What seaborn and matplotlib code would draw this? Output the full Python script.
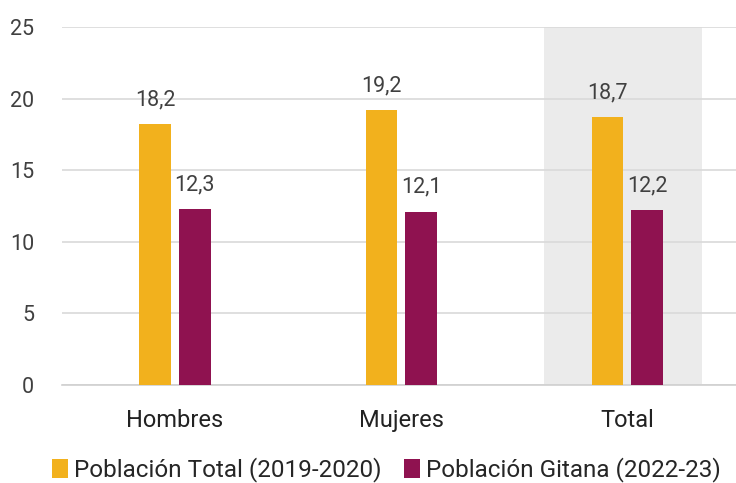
import matplotlib
matplotlib.use("Agg")
import matplotlib.pyplot as plt
import seaborn as sns
import pandas as pd

# =========================================================
# DATA
# =========================================================

categories = ["Hombres", "Mujeres", "Total"]
series_names = ["Población Total (2019-2020)", "Población Gitana (2022-23)"]
total_values = [18.2, 19.2, 18.7]
gitana_values = [12.3, 12.1, 12.2]
y_ticks = [0, 5, 10, 15, 20, 25]

colors = ["#F2B11D", "#8F1250"]
text_color = "#404040"

df = pd.DataFrame({
    "Grupo": categories * 2,
    "Serie": [series_names[0]] * 3 + [series_names[1]] * 3,
    "Valor": total_values + gitana_values,
})

# =========================================================
# PLOT
# =========================================================

sns.set_theme(style="white")
plt.rcParams["font.family"] = ["Roboto", "DejaVu Sans"]

fig = plt.figure(figsize=(7.36, 4.83), dpi=100)
ax = fig.add_axes([0.084, 0.203, 0.916, 0.741])

# highlight band behind "Total"
ax.axvspan(1.63, 2.33, color="#EBEBEB", zorder=0, lw=0)

sns.barplot(
    data=df,
    x="Grupo",
    y="Valor",
    hue="Serie",
    palette=colors,
    width=0.35,
    gap=0.2,
    saturation=1,
    errorbar=None,
    linewidth=0,
    ax=ax,
    zorder=3
)

for container in ax.containers:
    ax.bar_label(
        container,
        labels=[f"{v:.1f}".replace(".", ",") for v in container.datavalues],
        padding=10,
        fontsize=15.5,
        color=text_color
    )

ax.set_ylim(0, 25)
ax.set_xlim(-0.5, 2.48)
ax.set_yticks(y_ticks)
ax.yaxis.grid(True, color="#D9D9D9", lw=1.2)
for line in ax.get_ygridlines():
    line.set_zorder(1)

for side in ["left", "right", "top"]:
    ax.spines[side].set_visible(False)
ax.spines["bottom"].set_color("#D0D0D0")
ax.spines["bottom"].set_linewidth(1.2)

ax.tick_params(axis="y", length=0, pad=20, labelsize=15.5, labelcolor=text_color)
ax.tick_params(axis="x", length=0, pad=17, labelsize=17, labelcolor="#222222")
ax.set_xlabel("")
ax.set_ylabel("")

sns.move_legend(
    ax,
    "lower center",
    bbox_to_anchor=(0.4816, -0.333),
    ncol=2,
    title=None,
    frameon=False,
    fontsize=17.5,
    handlelength=0.65,
    handleheight=0.85,
    handletextpad=0.25,
    columnspacing=0.95
)

plt.savefig("out.png", dpi=100)
plt.close()
